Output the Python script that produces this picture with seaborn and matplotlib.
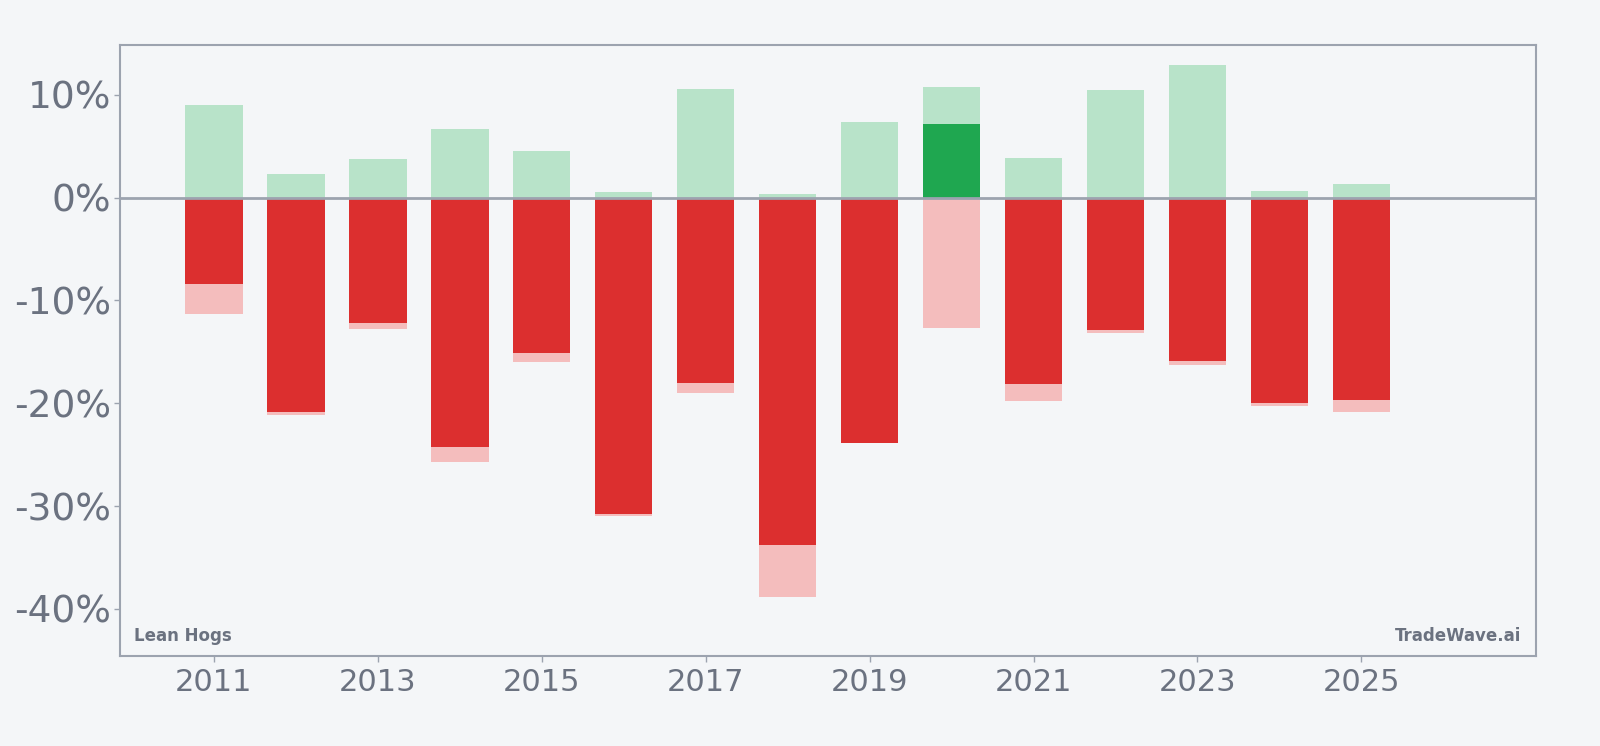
import numpy as np
import pandas as pd
import matplotlib
matplotlib.use("Agg")
import matplotlib.pyplot as plt
from matplotlib.ticker import FuncFormatter
import seaborn as sns

# ---- data (percent) ----
years = [2011, 2012, 2013, 2014, 2015, 2016, 2017, 2018, 2019, 2020, 2021, 2022, 2023, 2024, 2025]
max_up = [9.0, 2.3, 3.8, 6.7, 4.5, 0.55, 10.6, 0.36, 7.35, 10.8, 3.85, 10.5, 12.9, 0.65, 1.35]
max_down = [-11.3, -21.1, -12.8, -25.7, -16.0, -31.0, -19.0, -38.8, -23.9, -12.65, -19.75, -13.2, -16.3, -20.3, -20.8]
close_ret = [-8.4, -20.8, -12.2, -24.25, -15.1, -30.8, -18.0, -33.8, -23.9, 7.15, -18.1, -12.9, -15.9, -19.95, -19.7]
title_left = "Lean Hogs"
title_right = "TradeWave.ai"

BG = "#f4f6f8"
LIGHT_GREEN = "#b8e3c9"
LIGHT_RED = "#f4bdbd"
DARK_RED = "#dc2f2f"
DARK_GREEN = "#1fa750"
SPINE = "#9ca3af"
TEXT = "#6b7280"

sns.set_theme(style="white")
plt.rcParams["font.family"] = ["DejaVu Sans"]

df = pd.DataFrame({"year": years, "up": max_up, "down": max_down, "close": close_ret})

fig = plt.figure(figsize=(16, 7.46), dpi=100, facecolor=BG)
ax = fig.add_axes([0.0748, 0.121, 0.96 - 0.0748, 0.9397 - 0.121])
ax.set_facecolor(BG)

common = dict(x="year", native_scale=True, width=0.7, saturation=1, errorbar=None,
              linewidth=0, ax=ax)
sns.barplot(data=df, y="up", color=LIGHT_GREEN, **common)
sns.barplot(data=df, y="down", color=LIGHT_RED, **common)
sns.barplot(data=df[df["close"] < 0], y="close", color=DARK_RED, **common)
sns.barplot(data=df[df["close"] >= 0], y="close", color=DARK_GREEN, **common)

ax.axhline(0, color=SPINE, linewidth=2, zorder=5)

ax.set_xlim(2009.85, 2027.13)
ax.set_ylim(-44.55, 14.85)
ax.set_xticks(list(range(2011, 2026, 2)))
ax.xaxis.set_major_formatter(FuncFormatter(lambda v, p: f"{int(round(v))}"))
ax.set_yticks([-40, -30, -20, -10, 0, 10])
ax.yaxis.set_major_formatter(FuncFormatter(lambda v, p: f"{int(round(v))}%"))
ax.set_xlabel("")
ax.set_ylabel("")

for s in ax.spines.values():
    s.set_visible(True)
    s.set_color(SPINE)
    s.set_linewidth(1.5)

ax.tick_params(axis="x", labelsize=22, colors=SPINE, labelcolor=TEXT, length=4, width=1, pad=5, bottom=True)
ax.tick_params(axis="y", labelsize=27, colors=SPINE, labelcolor=TEXT, length=4, width=1, pad=2, left=True)

ax.annotate(title_left, xy=(0, 0), xycoords="axes fraction", xytext=(10.5, 10.5),
            textcoords="offset points", ha="left", va="baseline",
            fontsize=12, fontweight="bold", color=TEXT)
ax.annotate(title_right, xy=(1, 0), xycoords="axes fraction", xytext=(-10.5, 10.5),
            textcoords="offset points", ha="right", va="baseline",
            fontsize=12, fontweight="bold", color=TEXT)

fig.savefig("out.png", dpi=100, facecolor=BG)
